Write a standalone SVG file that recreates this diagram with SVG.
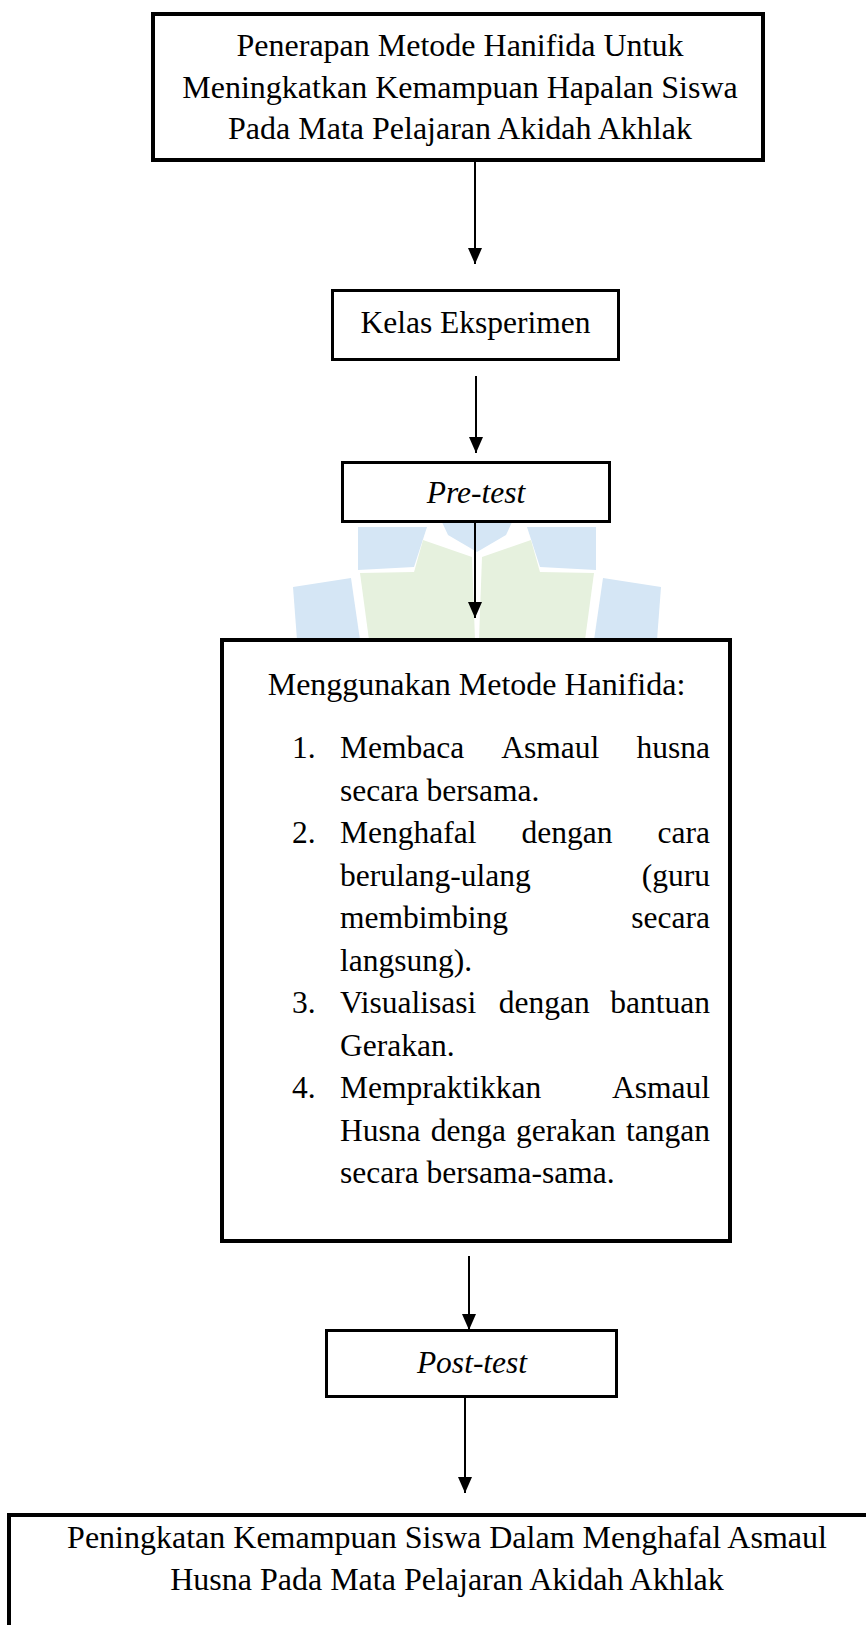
<svg xmlns="http://www.w3.org/2000/svg" width="866" height="1625" viewBox="0 0 866 1625">
<defs>
<style>
.box{fill:#fff;stroke:#000;stroke-width:4}
.box3{fill:#fff;stroke:#000;stroke-width:3}
.t{font-family:"Liberation Serif","Times New Roman",serif;font-size:31.5px;fill:#000}
.tc{text-anchor:middle}
.te{text-anchor:end}
.it{font-style:italic}
.conn{stroke:#000;stroke-width:2;fill:none}
.wb{fill:#d5e6f5}
.wg{fill:#e6f1de}
</style>
<marker id="ah" viewBox="0 0 16 14" refX="16" refY="7" markerWidth="16" markerHeight="14" markerUnits="userSpaceOnUse" orient="auto">
<path d="M0,0 L16,7 L0,14 z" fill="#000"/>
</marker>
</defs>
<rect width="866" height="1625" fill="#fff"/>

<g id="watermark">
<polygon class="wb" points="441,520 513,520 506,535 477,552 448,535"/>
<polygon class="wb" points="358,527 427,527 414,567 358,570"/>
<polygon class="wb" points="527,527 596,527 596,570 540,567"/>
<polygon class="wb" points="293,587 351,578 360,640 297,640"/>
<polygon class="wb" points="603,578 661,587 657,640 594,640"/>
<polygon class="wg" points="423,540 472,557 475,640 432,640 409,590"/>
<polygon class="wg" points="531,540 482,557 479,640 522,640 545,590"/>
<polygon class="wg" points="360,573 414,572 441,640 369,640"/>
<polygon class="wg" points="594,573 540,572 513,640 585,640"/>
</g>

<g id="connectors">
<line class="conn" x1="475" y1="162" x2="475" y2="264" marker-end="url(#ah)"/>
<line class="conn" x1="476" y1="376" x2="476" y2="453" marker-end="url(#ah)"/>
<line class="conn" x1="475" y1="523" x2="475" y2="618" marker-end="url(#ah)"/>
<line class="conn" x1="469" y1="1256" x2="469" y2="1330" marker-end="url(#ah)"/>
<line class="conn" x1="465" y1="1398" x2="465" y2="1493" marker-end="url(#ah)"/>
</g>

<g id="node-judul">
<rect class="box" x="153" y="14" width="610" height="146"/>
<text class="t tc" style="font-size:32px" x="460" y="56">Penerapan Metode Hanifida Untuk</text>
<text class="t tc" style="font-size:32px" x="460" y="98">Meningkatkan Kemampuan Hapalan Siswa</text>
<text class="t tc" style="font-size:32px" x="460" y="139">Pada Mata Pelajaran Akidah Akhlak</text>
</g>

<g id="node-kelas">
<rect class="box3" x="332.5" y="290.5" width="286" height="69"/>
<text class="t tc" x="475.5" y="333">Kelas Eksperimen</text>
</g>

<g id="node-pretest">
<rect class="box3" x="342.5" y="462.5" width="267" height="59"/>
<text class="t tc it" x="476" y="503">Pre-test</text>
</g>

<g id="node-metode">
<rect class="box" x="222" y="640" width="508" height="601"/>
<text class="t tc" style="font-size:32px" x="476.5" y="695">Menggunakan Metode Hanifida:</text>
<text class="t" x="292" y="758">1.</text>
<text class="t" x="340" y="758">Membaca</text>
<text class="t" x="501.3" y="758">Asmaul</text>
<text class="t te" x="710" y="758">husna</text>
<text class="t" x="340" y="800.5">secara bersama.</text>
<text class="t" x="292" y="843">2.</text>
<text class="t" x="340" y="843">Menghafal</text>
<text class="t" x="521.5" y="843">dengan</text>
<text class="t te" x="710" y="843">cara</text>
<text class="t" x="340" y="885.5">berulang-ulang</text>
<text class="t te" x="710" y="885.5">(guru</text>
<text class="t" x="340" y="928">membimbing</text>
<text class="t te" x="710" y="928">secara</text>
<text class="t" x="340" y="970.5">langsung).</text>
<text class="t" x="292" y="1013">3.</text>
<text class="t" x="340" y="1013">Visualisasi</text>
<text class="t" x="498.8" y="1013">dengan</text>
<text class="t te" x="710" y="1013">bantuan</text>
<text class="t" x="340" y="1055.5">Gerakan.</text>
<text class="t" x="292" y="1098">4.</text>
<text class="t" x="340" y="1098">Mempraktikkan</text>
<text class="t te" x="710" y="1098">Asmaul</text>
<text class="t" x="340" y="1140.5">Husna</text>
<text class="t" x="430.7" y="1140.5">denga</text>
<text class="t" x="516.1" y="1140.5">gerakan</text>
<text class="t te" x="710" y="1140.5">tangan</text>
<text class="t" x="340" y="1183">secara bersama-sama.</text>
</g>

<g id="node-posttest">
<rect class="box3" x="326.5" y="1330.5" width="290" height="66"/>
<text class="t tc it" x="472" y="1373">Post-test</text>
</g>

<g id="node-hasil">
<rect class="box" x="9" y="1515" width="880" height="200"/>
<text class="t tc" style="font-size:32px" x="447" y="1548">Peningkatan Kemampuan Siswa Dalam Menghafal Asmaul</text>
<text class="t tc" style="font-size:32px" x="447" y="1590">Husna Pada Mata Pelajaran Akidah Akhlak</text>
</g>
</svg>
